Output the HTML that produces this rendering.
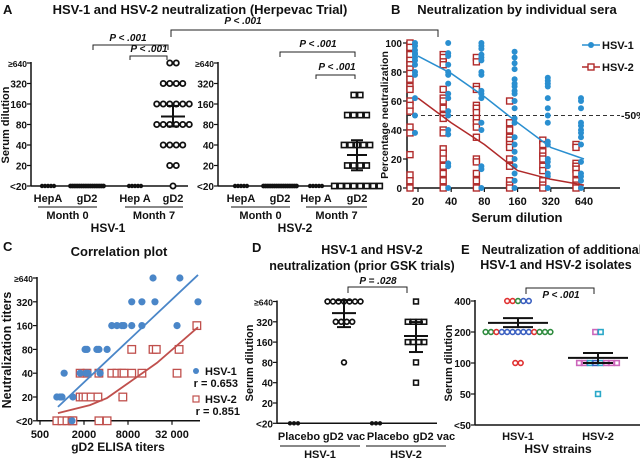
<!DOCTYPE html>
<html><head><meta charset="utf-8"><style>
html,body{margin:0;padding:0;background:#fff;}
svg{display:block;font-family:"Liberation Sans",sans-serif;}
text{font-weight:bold;fill:#111;}
</style></head><body>
<svg id="fig" width="640" height="461" viewBox="0 0 640 461"></svg>
<script>
// ---------- DATA ----------
// Panel A
const aLevels=[640,320,160,80,40,20,10];
const aTickLabels=["≥640","320","160","80","40","20","<20"];
const a1Cats=["HepA","gD2","Hep A","gD2"];
const a1Counts_gD2M7=[2,4,6,6,4,2,1];
const a1Mean=105, a1ErrLo=75, a1ErrHi=150;
const a2Values_gD2M7=[217,217,110,110,110,110,40,40,40,40,40,20,20,20,20,10,10,10,10,10,10,10,10];
const a2Mean=28.5, a2ErrLo=17, a2ErrHi=47;
const aM0HepA=5, aM0gD2=16, aM7HepA=5;
// Panel B
const bCats=["20","40","80","160","320","640"];
const bTicks=[0,20,40,60,80,100];
const bMean1=[91,79,63,45,28,20];
const bMean2=[62,45,30,12,6,2];
const bPts1=[[100,98,95,93,92,90,88,85,80,78,62,50,38],[100,93,91,85,80,78,72,65,62,53,50,40,37,17,15,0],[100,98,96,92,90,88,80,78,67,65,62,45,40,15,13,0],[94,90,86,82,75,72,70,67,65,60,55,48,45,35,30,25,20,15,10,5,0],[76,74,72,70,62,55,50,45,32,30,20,18,15,10,8,0],[62,60,55,45,43,40,38,35,30,18,10,8,5,0]];
const bPts2=[[100,97,92,88,85,82,79,75,70,68,60,57,53,42,38,23,9,5,0],[92,90,87,85,68,62,60,55,50,48,40,38,27,24,20,15,10,5,0],[90,87,70,68,57,55,52,48,45,42,35,20,18,10,5,0],[60,45,40,35,33,30,28,20,15,5,2,0],[33,30,25,22,20,15,12,5,2,0],[30,28,17,15,13,10,5,2,0]];
// Panel C
const cXTicks=[500,2000,8000,32000];
const cXTickLabels=["500","2000","8000","32 000"];
const c1=[[17600,640],[41000,640],[9000,320],[12400,320],[18700,320],[72600,320],[4800,160],[5650,160],[6600,160],[7050,160],[9000,160],[12400,160],[37500,160],[2070,80],[2200,80],[3000,80],[3200,80],[4140,80],[1070,40],[1770,40],[2130,40],[2270,40],[3320,40],[850,20],[940,20],[1000,20],[1410,20],[1370,10]];
const c2=[[70000,160],[9000,80],[17600,80],[19500,80],[40000,80],[1770,40],[2200,40],[3200,40],[4800,40],[5650,40],[6600,40],[7050,40],[9000,40],[12400,40],[37500,40],[1770,20],[1940,20],[2130,20],[2500,20],[3100,20],[6800,20],[850,10],[1000,10],[1170,10],[1370,10],[1410,10],[3200,10],[4140,10]];
const cFit1=[[880,15],[72600,700]];
const cFit2=[[880,12.5],[2410,15.8],[4130,19.4],[19900,54],[72600,153]];
// Panel D
const dCats=["Placebo","gD2 vac","Placebo","gD2 vac"];
const d1Vac=[640,640,640,640,640,640,640,320,320,320,320,80];
const d2Vac=[640,320,320,320,320,160,160,160,160,80,40];
const d1Mean=431,d1Lo=267,d1Hi=670,d2Mean=197,d2Lo=114,d2Hi=317;
// Panel E
const eTicks=[400,200,100,50,25];
const eTickLabels=["400","200","100","50","<50"];
const e1Rows=[[400,["r","r","g","b","b"]],[200,["g","g","r","b","b","b","b","b","b","r","g","g","g"]],[100,["r","r"]]];
const e2Rows=[[200,["p","c"]],[100,["p","p","c","b","c","p","p","p"]],[50,["c"]]];
const e1Mean=245,e1Lo=223,e1Hi=273,e2Mean=112,e2Lo=100,e2Hi=125;

// ---------- HELPERS ----------
const S=document.getElementById('fig');const NS='http://www.w3.org/2000/svg';
function mk(tag,at){const e=document.createElementNS(NS,tag);for(const k in at)e.setAttribute(k,at[k]);S.appendChild(e);return e;}
function T(x,y,s,size,anchor,name,extra){const e=mk('text',Object.assign({x:x,y:y,'font-size':size,'text-anchor':anchor||'middle'},extra||{}));e.textContent=s;

return e;}
function L(x1,y1,x2,y2,name,w,col,dash){const e=mk('line',{x1:x1,y1:y1,x2:x2,y2:y2,stroke:col||'#111','stroke-width':w||1.5});if(dash)e.setAttribute('stroke-dasharray',dash);

return e;}
function P(d,name,col,w){const e=mk('path',{d:d,fill:'none',stroke:col||'#111','stroke-width':w||1.5});

return e;}
function C(x,y,r,fill,stroke,sw,name){const e=mk('circle',{cx:x,cy:y,r:r,fill:fill,stroke:stroke||'none','stroke-width':sw||0});

return e;}
function Q(x,y,h,stroke,sw,name,fill){const e=mk('rect',{x:x-h,y:y-h,width:2*h,height:2*h,fill:fill||'#fff',stroke:stroke,'stroke-width':sw});

return e;}
function bracket(x1,x2,y,drop,label,ly,lx,name){P(`M${x1},${y+drop}V${y}H${x2}V${y+drop}`,name+'-bracket','#222',1);
T(lx,ly,label,10,'middle',name+'-label',{'font-style':'italic'});}
function errbar(cx,yM,yLo,yHi,wM,wC,name){L(cx-wM,yM,cx+wM,yM,name+'-mean',2);L(cx,yHi,cx,yLo,name+'-err',2);L(cx-wC,yHi,cx+wC,yHi,name+'-cap-hi',2);L(cx-wC,yLo,cx+wC,yLo,name+'-cap-lo',2);}
function row(cx,n,sp){const a=[];for(let i=0;i<n;i++)a.push(cx+(i-(n-1)/2)*sp);return a;}
const log2=Math.log2;
const TK=10;

// ---------- PANEL A ----------
const aY=v=>165.5-20.5*log2(v/20);
T(3,14,'A',13,'start','panel-a-letter',{'font-weight':'normal'});
T(200,14,'HSV-1 and HSV-2 neutralization (Herpevac Trial)',13,'middle','panel-a-title');
function aAxis(ax,xEnd,pre){L(ax,aY(640)-1,ax,aY(10),pre+'-y-axis');L(ax,aY(10),xEnd,aY(10),pre+'-x-axis');
aLevels.forEach((v,i)=>{L(ax-4,aY(v),ax,aY(v),pre+'-y-tick',1.2);T(ax-4,aY(v)+4,aTickLabels[i],i==0?8.5:TK,'end',pre+'-y-tick-label');});}
aAxis(31,188,'a1');aAxis(218,375,'a2');
T(9,125,'Serum dilution',11,'middle','a-y-axis-title',{transform:'rotate(-90 9 125)'});
const a1X=[48,87,135,173],a2X=[241,280,316,357];
[[a1X,'a1'],[a2X,'a2']].forEach(([X,pre])=>{
 a1Cats.forEach((c,i)=>T(X[i],202,c,11,'middle',pre+'-x-label'));
 L(X[0]-10,207,X[1]+10,207,pre+'-month0-underline',1);L(X[2]-10,207,X[3]+10,207,pre+'-month7-underline',1);
 T((X[0]+X[1])/2,219,'Month 0',11,'middle',pre+'-month0-label');T((X[2]+X[3])/2,219,'Month 7',11,'middle',pre+'-month7-label');
 row(X[0],aM0HepA,3).forEach(x=>C(x,aY(10),2.2,'#111','none',0,pre+'-hepa-m0-point'));
 row(X[1],aM0gD2,2.2).forEach(x=>C(x,aY(10),2.4,'#111','none',0,pre+'-gd2-m0-point'));
 row(X[2],aM7HepA,3).forEach(x=>C(x,aY(10),2.2,'#111','none',0,pre+'-hepa-m7-point'));
});
T(108,232,'HSV-1',12,'middle','a1-group-label');T(295,232,'HSV-2',12,'middle','a2-group-label');
a1Counts_gD2M7.forEach((n,i)=>row(a1X[3],n,6.5).forEach(x=>C(x,aY(aLevels[i]),2.6,'#fff','#111',1.8,'a1-gd2-m7-point')));
errbar(a1X[3],aY(a1Mean),aY(a1ErrLo),aY(a1ErrHi),12,6,'a1-gd2-m7');
const a2g={};a2Values_gD2M7.forEach(v=>{a2g[v]=(a2g[v]||0)+1;});
Object.keys(a2g).forEach(v=>{const n=a2g[v];row(a2X[3],n,6.5).forEach(x=>Q(x,aY(+v),2.6,'#111',1.6,'a2-gd2-m7-point'));});
errbar(a2X[3],aY(a2Mean),aY(a2ErrLo),aY(a2ErrHi),10,6,'a2-gd2-m7');
bracket(93,168,45,5,'P < .001',41,128,'a1-p-m0-m7');
bracket(130,167,56,4,'P < .001',52,149,'a1-p-hepa-gd2');
bracket(171,438,30,7,'P < .001',24,243,'a-p-hsv1-hsv2');
bracket(280,355,52,5,'P < .001',47,318,'a2-p-m0-m7');
bracket(316,355,75,4,'P < .001',70,337,'a2-p-hepa-gd2');

// ---------- PANEL B ----------
const bX=i=>418+i*33.2, bY=v=>188-1.45*v;
const B1='#2a8fd0',B2='#b02a2a';
T(391,14,'B',13,'start','panel-b-letter',{'font-weight':'normal'});
T(517,14,'Neutralization by individual sera',13,'middle','panel-b-title');
L(407,bY(100)-2,407,bY(0),'b-y-axis');L(407,bY(0),620,bY(0),'b-x-axis');
bTicks.forEach(v=>{L(403,bY(v),407,bY(v),'b-y-tick',1.2);T(402,bY(v)+4,String(v),TK,'end','b-y-tick-label');});
bCats.forEach((c,i)=>{L(bX(i),bY(0),bX(i),bY(0)+4,'b-x-tick',1.2);T(bX(i),205,c,11,'middle','b-x-tick-label');});
T(388,115,'Percentage neutralization',10.5,'middle','b-y-axis-title',{transform:'rotate(-90 388 115)'});
T(517,222,'Serum dilution',13,'middle','b-x-axis-title');
L(407,bY(50),620,bY(50),'b-50pct-line',1,'#333','4,3');T(621,119,'-50%',10.5,'start','b-50pct-label');
bPts2.forEach((arr,i)=>arr.forEach(v=>Q(bX(i)-8,bY(v),3,B2,1.4,'b-hsv2-point')));
bPts1.forEach((arr,i)=>arr.forEach(v=>C(bX(i)-3,bY(v),3,B1,'none',0,'b-hsv1-point')));
P(bMean1.map((v,i)=>(i?'L':'M')+bX(i)+','+bY(v)).join(''),'b-hsv1-mean-line',B1,1.5);
P(bMean2.map((v,i)=>(i?'L':'M')+bX(i)+','+bY(v)).join(''),'b-hsv2-mean-line',B2,1.5);
L(582,45,600,45,'b-legend-hsv1-line',1.5,B1);C(591,45,3,B1,'none',0,'b-legend-hsv1-marker');T(602,49,'HSV-1',11,'start','b-legend-hsv1-label');
L(582,67,600,67,'b-legend-hsv2-line',1.5,B2);Q(591,67,3,B2,1.4,'b-legend-hsv2-marker');T(602,71,'HSV-2',11,'start','b-legend-hsv2-label');

// ---------- PANEL C ----------
const cX=v=>40+22*log2(v/500), cY=v=>397-23.8*log2(v/20);
const C1='#4a86c8',C2='#c0504d';
T(3,251,'C',13,'start','panel-c-letter',{'font-weight':'normal'});
T(119,256,'Correlation plot',13,'middle','panel-c-title');
L(37,cY(640)-1,37,cY(10),'c-y-axis');L(37,cY(10),200,cY(10),'c-x-axis');
aLevels.forEach((v,i)=>{L(33,cY(v),37,cY(v),'c-y-tick',1.2);T(33,cY(v)+4,aTickLabels[i],i==0?8.5:TK,'end','c-y-tick-label');});
cXTicks.forEach((v,i)=>{L(cX(v),cY(10),cX(v),cY(10)+4,'c-x-tick',1.2);T(cX(v),438,cXTickLabels[i],11,'middle','c-x-tick-label');});
T(11,350,'Neutralization titers',12.5,'middle','c-y-axis-title',{transform:'rotate(-90 11 350)'});
T(118,451,'gD2 ELISA titers',12,'middle','c-x-axis-title');
c2.forEach(p=>Q(cX(p[0]),cY(p[1]),3.8,C2,1.3,'c-hsv2-point'));
c1.forEach(p=>C(cX(p[0]),cY(p[1]),3.6,C1,'none',0,'c-hsv1-point'));
P(cFit1.map((p,i)=>(i?'L':'M')+cX(p[0])+','+cY(p[1])).join(''),'c-hsv1-fit',C1,1.8);
{let d='M'+cX(cFit2[0][0])+','+cY(cFit2[0][1]);for(let i=1;i<cFit2.length;i++)d+='L'+cX(cFit2[i][0])+','+cY(cFit2[i][1]);P(d,'c-hsv2-fit',C2,1.8);}
C(196,371,3,C1,'none',0,'c-legend-hsv1-marker');T(205,375,'HSV-1',11,'start','c-legend-hsv1-label');
T(238,387,'r = 0.653',11,'end','c-legend-hsv1-r');
Q(196,399,3,C2,1.2,'c-legend-hsv2-marker');T(205,403,'HSV-2',11,'start','c-legend-hsv2-label');
T(240,415,'r = 0.851',11,'end','c-legend-hsv2-r');

// ---------- PANEL D ----------
const dY=v=>403-20.3*log2(v/20), dXs=[294,344,376,416];
T(252,252,'D',13,'start','panel-d-letter',{'font-weight':'normal'});
T(372,254,'HSV-1 and HSV-2',12.5,'middle','panel-d-title-line1');
T(362,270,'neutralization (prior GSK trials)',12.5,'middle','panel-d-title-line2');
L(277,dY(640)-1,277,dY(10),'d-y-axis');L(277,dY(10),437,dY(10),'d-x-axis');
aLevels.forEach((v,i)=>{L(273,dY(v),277,dY(v),'d-y-tick',1.2);T(273,dY(v)+4,aTickLabels[i],i==0?8.5:TK,'end','d-y-tick-label');});
T(253,363,'Serum dilution',11,'middle','d-y-axis-title',{transform:'rotate(-90 253 363)'});
const dLX=[299,344,388,434];
dCats.forEach((c,i)=>T(dLX[i],440,c,11,'middle','d-x-label'));
L(280,446,360,446,'d-hsv1-underline',1);L(366,446,446,446,'d-hsv2-underline',1);
T(320,458,'HSV-1',11,'middle','d-hsv1-label');T(406,458,'HSV-2',11,'middle','d-hsv2-label');
row(dXs[0],3,4).forEach(x=>C(x,dY(10),2.2,'#111','none',0,'d-placebo-hsv1-point'));
row(dXs[2],3,4).forEach(x=>C(x,dY(10),2.2,'#111','none',0,'d-placebo-hsv2-point'));
{const g={};d1Vac.forEach(v=>g[v]=(g[v]||0)+1);Object.keys(g).forEach(v=>row(dXs[1],g[v],5.5).forEach(x=>C(x,dY(+v),2.4,'#fff','#111',1.7,'d-vac-hsv1-point')));}
{const g={};d2Vac.forEach(v=>g[v]=(g[v]||0)+1);Object.keys(g).forEach(v=>row(dXs[3],g[v],5.5).forEach(x=>Q(x,dY(+v),2.4,'#111',1.6,'d-vac-hsv2-point')));}
errbar(dXs[1],dY(d1Mean),dY(d1Lo),dY(d1Hi),12,7,'d-vac-hsv1');
errbar(dXs[3],dY(d2Mean),dY(d2Lo),dY(d2Hi),12,7,'d-vac-hsv2');
bracket(348,407,287,6,'P = .028',284,378,'d-p');

// ---------- PANEL E ----------
const eY=v=>363-31*log2(v/100), e1X=518, e2X=598;
const EC={r:'#e03030',g:'#2e8b3e',b:'#3a5fc0',p:'#cc66bb',c:'#2aa8c8'};
T(461,254,'E',13,'start','panel-e-letter',{'font-weight':'normal'});
T(562,254,'Neutralization of additional',12.5,'middle','panel-e-title-line1');
T(556,269,'HSV-1 and HSV-2 isolates',12.5,'middle','panel-e-title-line2');
L(475,eY(400)-1,475,eY(25),'e-y-axis');L(475,eY(25),640,eY(25),'e-x-axis');
eTicks.forEach((v,i)=>{L(471,eY(v),475,eY(v),'e-y-tick',1.2);T(471,eY(v)+4,eTickLabels[i],TK,'end','e-y-tick-label');});
T(452,363,'Serum dilution',11,'middle','e-y-axis-title',{transform:'rotate(-90 452 363)'});
T(e1X,440,'HSV-1',11,'middle','e-x-label');T(e2X,440,'HSV-2',11,'middle','e-x-label');
T(558,453,'HSV strains',12,'middle','e-x-axis-title');
e1Rows.forEach(([v,cols])=>row(e1X,cols.length,5.4).forEach((x,i)=>C(x,eY(v),2.4,'#fff',EC[cols[i]],1.6,'e-hsv1-point')));
e2Rows.forEach(([v,cols])=>row(e2X,cols.length,5.4).forEach((x,i)=>Q(x,eY(v),2.4,EC[cols[i]],1.6,'e-hsv2-point')));
errbar(e1X,eY(e1Mean),eY(e1Lo),eY(e1Hi),30,15,'e-hsv1');
errbar(e2X,eY(e2Mean),eY(e2Lo),eY(e2Hi),30,15,'e-hsv2');
bracket(526,594,288,6,'P < .001',298,561,'e-p');
</script>
</body></html>
